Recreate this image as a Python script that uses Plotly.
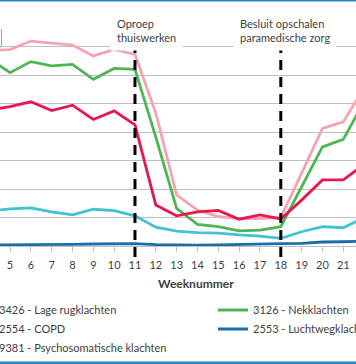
import plotly.graph_objects as go

# ---- data ----
WEEKS = [4, 5, 6, 7, 8, 9, 10, 11, 12, 13, 14, 15, 16, 17, 18, 19, 20, 21, 22]
WEEK_LABELS = [str(w) for w in WEEKS]

LAGE_RUG = [6.86, 6.89, 7.19, 7.13, 7.05, 6.67, 6.90, 6.72, 4.67, 1.79, 1.26, 1.03, 0.96, 0.96, 1.00, 2.56, 4.13, 4.36, 5.54]
NEK = [6.58, 6.08, 6.47, 6.32, 6.37, 5.85, 6.23, 6.20, 3.82, 1.32, 0.76, 0.68, 0.53, 0.56, 0.68, 2.08, 3.48, 3.74, 5.08]
COPD = [4.77, 4.89, 5.06, 4.75, 4.94, 4.44, 4.74, 4.25, 1.44, 1.06, 1.20, 1.25, 0.94, 1.09, 0.95, 1.61, 2.32, 2.32, 2.86]
LUCHTWEG = [0.04, 0.04, 0.05, 0.05, 0.06, 0.07, 0.08, 0.08, 0.05, 0.03, 0.03, 0.04, 0.06, 0.07, 0.08, 0.09, 0.14, 0.15, 0.17]
PSYCHO = [1.23, 1.30, 1.34, 1.20, 1.09, 1.29, 1.24, 1.06, 0.66, 0.52, 0.47, 0.45, 0.39, 0.35, 0.27, 0.50, 0.68, 0.64, 0.99]

SERIES_NAMES = [
    "3426 - Lage rugklachten",
    "3126 - Nekklachten",
    "2554 - COPD",
    "2553 - Luchtwegklachten",
    "9381 - Psychosomatische klachten",
]
SERIES_VALUES = [LAGE_RUG, NEK, COPD, LUCHTWEG, PSYCHO]
SERIES_COLORS = ["#F5A3B1", "#4DB552", "#E8174F", "#1A6EA8", "#41C3CF"]
SERIES_LEGEND = ["legend", "legend2", "legend", "legend2", "legend"]

EVENT_WEEKS = [11, 18]
EVENT_LABELS = ["Oproep<br>thuiswerken", "Besluit opschalen<br>paramedische zorg"]
EVENT_SHIFT = [12, 4]

X_TITLE = "Weeknummer"

# ---- layout geometry ----
W, H = 356, 364
M_T, M_B = 18, 118
PLOT_H = H - M_T - M_B  # 228
FONT = "Lato, 'Open Sans', sans-serif"
TXT = "#404040"


def py(pix):
    return (H - M_B - pix) / PLOT_H


def px(pix):
    return pix / W


fig = go.Figure()
for name, vals, col, lg in zip(SERIES_NAMES, SERIES_VALUES, SERIES_COLORS, SERIES_LEGEND):
    fig.add_trace(go.Scatter(
        x=WEEKS, y=vals, mode="lines", name=name,
        line=dict(color=col, width=2.8), legend=lg, hoverinfo="skip",
    ))

shapes = []
for wk in EVENT_WEEKS:
    shapes.append(dict(type="line", xref="x", yref="paper", x0=wk, x1=wk,
                       y0=py(257), y1=py(48),
                       line=dict(color="black", width=3, dash="10px,7px"), layer="above"))
# thin blue frame lines at top and bottom of the picture
shapes.append(dict(type="line", xref="paper", yref="paper", x0=-0.1, x1=1.1,
                   y0=py(0.7), y1=py(0.7), line=dict(color="#2E86C1", width=1.5)))
shapes.append(dict(type="line", xref="paper", yref="paper", x0=-0.1, x1=1.1,
                   y0=py(362.8), y1=py(362.8), line=dict(color="#2E86C1", width=2.5)))
# edge of a box cut off at the left
shapes.append(dict(type="rect", xref="paper", yref="paper", x0=px(-30), x1=px(1.5),
                   y0=py(47), y1=py(30), line=dict(color="#A6A6A6", width=1),
                   fillcolor="white", layer="above"))

annotations = []
for wk, lab, sh in zip(EVENT_WEEKS, EVENT_LABELS, EVENT_SHIFT):
    annotations.append(dict(x=wk, xref="x", y=py(30), yref="paper", text=lab,
                            showarrow=False, align="left", xanchor="center",
                            yanchor="middle", xshift=sh, bgcolor="white",
                            borderpad=6, font=dict(family=FONT, size=11, color=TXT)))
annotations.append(dict(x=px(196), xref="paper", y=py(283), yref="paper",
                        text="<b>" + X_TITLE + "</b>", showarrow=False,
                        xanchor="center", yanchor="middle",
                        font=dict(family=FONT, size=12, color=TXT)))

fig.update_layout(
    width=W, height=H,
    margin=dict(l=0, r=0, t=M_T, b=M_B, pad=0, autoexpand=False),
    paper_bgcolor="white", plot_bgcolor="white",
    font=dict(family=FONT, size=11, color=TXT),
    hovermode=False,
    xaxis=dict(range=[4.52, 21.61], tickmode="array", tickvals=WEEKS,
               ticktext=WEEK_LABELS, showgrid=False, zeroline=False,
               showline=True, linecolor="#BFBFBF", linewidth=1,
               ticks="outside", ticklen=5, tickcolor="#BFBFBF",
               ticklabelstandoff=4,
               tickfont=dict(family=FONT, size=11, color=TXT)),
    yaxis=dict(range=[0, 8], dtick=1, showticklabels=False, showgrid=True,
               gridcolor="#BFBFBF", gridwidth=1, zeroline=False),
    showlegend=True,
    legend=dict(x=px(-41), xanchor="left", y=py(295.5), yanchor="top",
                orientation="v", bgcolor="rgba(0,0,0,0)", itemwidth=30,
                tracegroupgap=0, font=dict(family=FONT, size=11, color=TXT)),
    legend2=dict(x=px(213), xanchor="left", y=py(295.5), yanchor="top",
                 orientation="v", bgcolor="rgba(0,0,0,0)", itemwidth=30,
                 tracegroupgap=0, font=dict(family=FONT, size=11, color=TXT)),
    shapes=shapes, annotations=annotations,
)

fig.write_html(
    "out.html",
    config={"displayModeBar": False, "staticPlot": True},
    post_script="document.body.style.margin='0px';document.body.style.overflow='hidden';",
)
